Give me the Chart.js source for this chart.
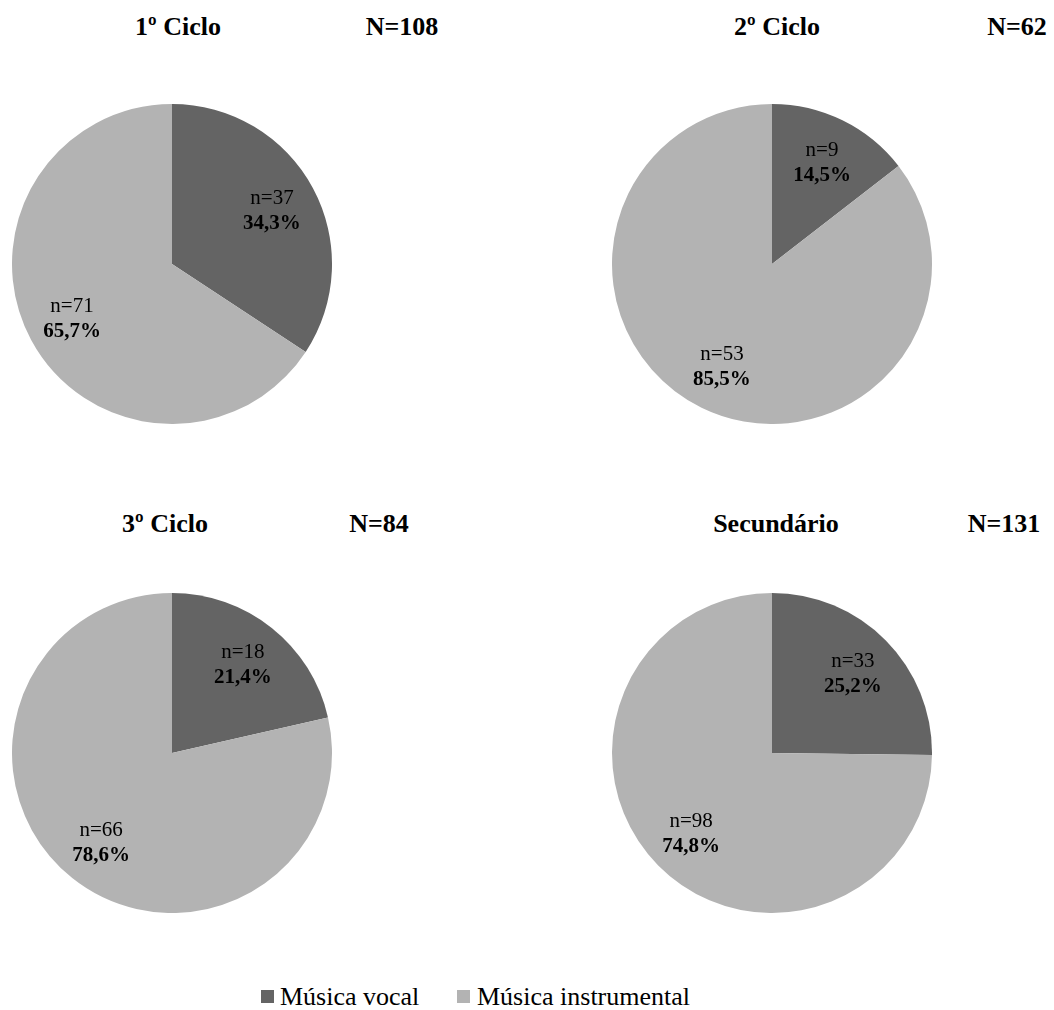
<!DOCTYPE html>
<html>
<head>
<meta charset="utf-8">
<script src="https://cdn.jsdelivr.net/npm/chart.js@4/dist/chart.umd.min.js"></script>
<style>
  html, body { margin: 0; padding: 0; background: #fff; }
  #page { position: relative; width: 1054px; height: 1010px; overflow: hidden;
          font-family: "Liberation Serif", "DejaVu Serif", serif; color: #000; }
  .pie { position: absolute; width: 320px; height: 320px; }
  .title { position: absolute; width: 240px; text-align: center; font-size: 26px;
           line-height: 26px; font-weight: bold; white-space: nowrap; }
  .legend { position: absolute; top: 984px; left: 0; font-size: 26px; line-height: 26px; white-space: nowrap; }
  .legend span.box { position: absolute; top: 6px; width: 13px; height: 13px; }
  .legend span.txt { position: absolute; top: 0; }
</style>
</head>
<body>
<div id="page"></div>
<script>
// school levels and answers per level
const levels = ["1º Ciclo", "2º Ciclo", "3º Ciclo", "Secundário"];
const totals = [108, 62, 84, 131];
const vocal = [37, 9, 18, 33];
const instrumental = [71, 53, 66, 98];
const seriesNames = ["Música vocal", "Música instrumental"];
const COLORS = ["#646464", "#b3b3b3"];

// where each pie sits (centre) and where its title / N label go
const centres = [[172, 264], [772, 264], [172, 753], [772, 753]];
const titleX = [178, 777, 165, 776];
const totalX = [402, 1017, 379, 1004];
const titleTop = [14, 14, 511, 511];

const page = document.getElementById("page");

function pct(v, t) {
  return (v / t * 100).toFixed(1).replace(".", ",") + "%";
}

// n= / % labels inside each slice
const sliceLabels = {
  id: "sliceLabels",
  afterDatasetsDraw(chart) {
    const ctx = chart.ctx;
    const meta = chart.getDatasetMeta(0);
    const data = chart.data.datasets[0].data;
    const total = data.reduce((a, b) => a + b, 0);
    meta.data.forEach((arc, i) => {
      const p = arc.getProps(["x", "y", "startAngle", "endAngle", "outerRadius"], true);
      const mid = (p.startAngle + p.endAngle) / 2;
      const r = p.outerRadius * 0.71;
      const x = p.x + Math.cos(mid) * r;
      const y = p.y + Math.sin(mid) * r;
      ctx.save();
      ctx.fillStyle = "#000";
      ctx.textAlign = "center";
      ctx.textBaseline = "alphabetic";
      ctx.font = '21px "Liberation Serif", serif';
      ctx.fillText("n=" + data[i], x, y - 6);
      ctx.font = 'bold 21px "Liberation Serif", serif';
      ctx.fillText(pct(data[i], total), x, y + 19);
      ctx.restore();
    });
  }
};

levels.forEach((name, k) => {
  const t = document.createElement("div");
  t.className = "title";
  t.style.left = (titleX[k] - 120) + "px";
  t.style.top = titleTop[k] + "px";
  t.textContent = name;
  page.appendChild(t);

  const n = document.createElement("div");
  n.className = "title";
  n.style.left = (totalX[k] - 120) + "px";
  n.style.top = titleTop[k] + "px";
  n.textContent = "N=" + totals[k];
  page.appendChild(n);

  const box = document.createElement("div");
  box.className = "pie";
  box.style.left = (centres[k][0] - 160) + "px";
  box.style.top = (centres[k][1] - 160) + "px";
  const canvas = document.createElement("canvas");
  box.appendChild(canvas);
  page.appendChild(box);

  new Chart(canvas, {
    type: "pie",
    data: {
      labels: seriesNames,
      datasets: [{
        data: [vocal[k], instrumental[k]],
        backgroundColor: COLORS,
        borderWidth: 0,
        hoverOffset: 0
      }]
    },
    options: {
      responsive: true,
      maintainAspectRatio: false,
      animation: false,
      layout: { padding: 0 },
      plugins: { legend: { display: false }, tooltip: { enabled: false } }
    },
    plugins: [sliceLabels]
  });
});

// legend under the pies
const legend = document.createElement("div");
legend.className = "legend";
const legendItems = [
  { box: 261, text: 280 },
  { box: 457, text: 477 }
];
seriesNames.forEach((s, i) => {
  const b = document.createElement("span");
  b.className = "box";
  b.style.left = legendItems[i].box + "px";
  b.style.background = COLORS[i];
  legend.appendChild(b);
  const t = document.createElement("span");
  t.className = "txt";
  t.style.left = legendItems[i].text + "px";
  t.textContent = s;
  legend.appendChild(t);
});
page.appendChild(legend);
</script>
</body>
</html>
